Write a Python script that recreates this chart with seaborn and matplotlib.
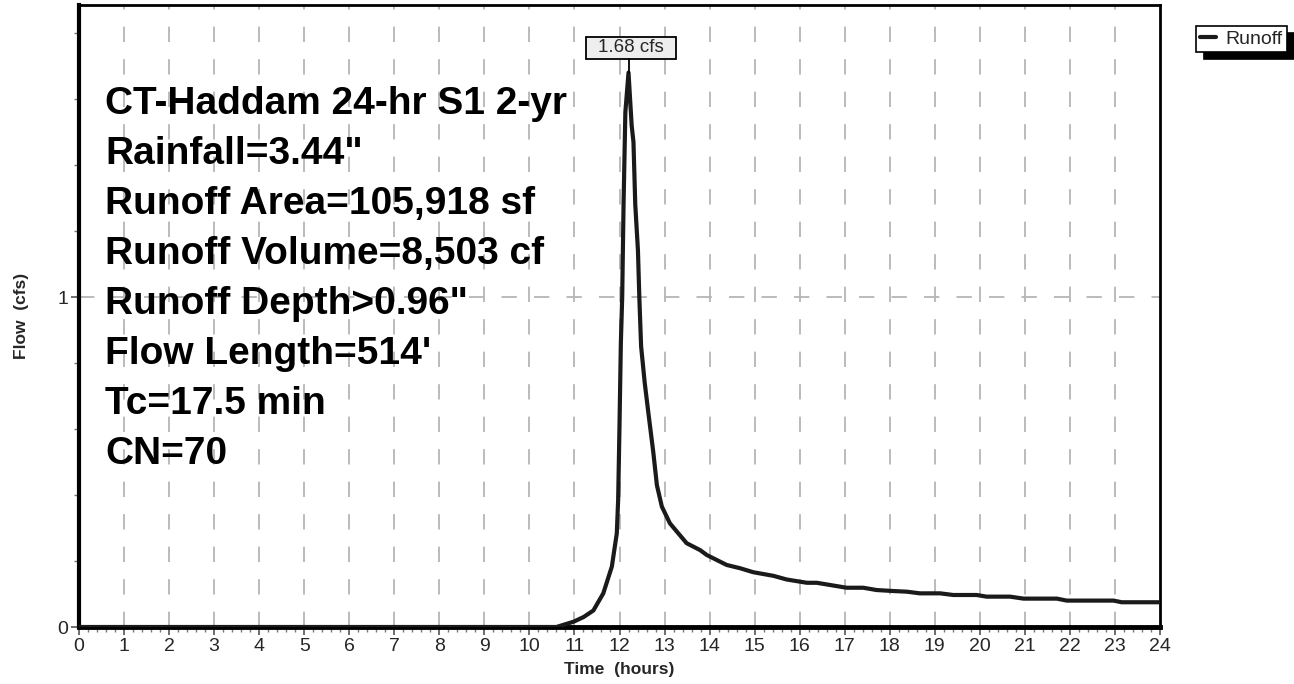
import matplotlib
matplotlib.use("Agg")
import matplotlib.pyplot as plt
from matplotlib.ticker import MultipleLocator
from matplotlib.transforms import Affine2D
from matplotlib.patches import Rectangle
import seaborn as sns
import pandas as pd

# ---- data ----
time_hr = [0, 10.6, 10.98, 11.2, 11.42, 11.64, 11.83, 11.94, 11.97, 12.0, 12.03, 12.06,
           12.09, 12.13, 12.2, 12.27, 12.31, 12.35, 12.41, 12.44, 12.48, 12.56, 12.64,
           12.75, 12.83, 12.94, 13.12, 13.49, 13.79, 13.94, 14.38, 14.68, 14.97, 15.42,
           15.71, 16.16, 16.38, 17.04, 17.41, 17.71, 18.08, 18.38, 18.67, 19.12, 19.41,
           19.93, 20.15, 20.67, 20.97, 21.71, 21.93, 22.97, 23.15, 24]
flow_cfs = [0, 0, 0.016, 0.03, 0.05, 0.102, 0.183, 0.284, 0.385, 0.61, 0.86, 1.0,
            1.28, 1.56, 1.68, 1.52, 1.47, 1.28, 1.14, 1.0, 0.85, 0.74, 0.65,
            0.53, 0.43, 0.365, 0.314, 0.254, 0.233, 0.218, 0.188, 0.178, 0.166, 0.155,
            0.144, 0.134, 0.134, 0.119, 0.119, 0.112, 0.109, 0.107, 0.102, 0.102, 0.097,
            0.097, 0.092, 0.092, 0.086, 0.086, 0.080, 0.080, 0.075, 0.075]
series_name = "Runoff"
peak_label = "1.68 cfs"
peak_time = 12.2
peak_flow = 1.68
info_lines = ["CT-Haddam 24-hr S1 2-yr", "Rainfall=3.44\"", "Runoff Area=105,918 sf",
              "Runoff Volume=8,503 cf", "Runoff Depth>0.96\"", "Flow Length=514'",
              "Tc=17.5 min", "CN=70"]
x_ticks = list(range(0, 25))
y_ticks = [0, 1]

df = pd.DataFrame({"Time": time_hr, "Flow": flow_cfs, "Series": series_name})

sns.set_style("white")
plt.rcParams["font.family"] = ["Liberation Sans", "DejaVu Sans"]

fig = plt.figure(figsize=(12.94, 6.84), dpi=100)
ax = fig.add_axes([79 / 1294, 1 - 627 / 684, (1160 - 79) / 1294, (627 - 5) / 684])

# gridlines
for xt in x_ticks[1:-1]:
    ax.axvline(xt, color="#b5b5b5", lw=1.3, ls=(0, (8.5, 9.5)), zorder=0)
ax.axhline(1, color="#b5b5b5", lw=1.3, ls=(0, (8.5, 9.5)), zorder=0)

sns.lineplot(data=df, x="Time", y="Flow", hue="Series", palette=["#1a1a1a"],
             linewidth=3.0, ax=ax, legend=False, zorder=3)

ax.set_xlim(0, 24)
ax.set_ylim(0, 1.885)
ax.set_xticks(x_ticks)
ax.set_yticks(y_ticks)
ax.xaxis.set_minor_locator(MultipleLocator(0.2))
ax.yaxis.set_minor_locator(MultipleLocator(0.2))
ax.tick_params(axis="both", which="major", direction="out", length=6, width=1.2,
               color="#555555", labelsize=14, pad=2)
ax.tick_params(axis="both", which="minor", direction="out", length=3.5, width=1.0,
               color="#777777")
ax.tick_params(axis="both", which="both", bottom=True, left=True)

for side, lw in [("left", 3.0), ("bottom", 3.5), ("top", 2.0), ("right", 2.0)]:
    ax.spines[side].set_visible(True)
    ax.spines[side].set_color("black")
    ax.spines[side].set_linewidth(lw)

ax.set_xlabel("Time  (hours)", fontsize=12.5, fontweight="bold", labelpad=5)
ax.set_ylabel("Flow  (cfs)", fontsize=12.5, fontweight="bold", labelpad=20)

# info text
for i, line in enumerate(info_lines):
    ax.text(0.0245, 1 - (104 - 5 + 50 * i) / 622, line,
            transform=ax.transAxes, fontsize=28, fontweight="bold",
            va="center", ha="left", color="black", zorder=4)

# peak annotation (box offset in pixels from the peak point)
px, py = ax.transData.transform((peak_time, peak_flow))
off = Affine2D().translate(px, py)
ax.add_patch(Rectangle((-43, 14), 90, 22, transform=off, facecolor="#eeeeee",
                       edgecolor="black", lw=1.3, zorder=5, clip_on=False))
ax.add_line(plt.Line2D([0, 0], [0, 14], transform=off, color="black", lw=1.3,
                       zorder=5, clip_on=False))
ax.text(2, 25, peak_label, transform=off, ha="center", va="center",
        fontsize=13.5, zorder=6)

# legend
handle = plt.Line2D([], [], color="#1a1a1a", lw=3.0)
leg = fig.legend([handle], [series_name], loc="upper left",
                 bbox_to_anchor=(1196 / 1294, 1 - 26 / 684), fontsize=14,
                 frameon=True, fancybox=False, edgecolor="black", framealpha=1,
                 handlelength=0.8, handletextpad=0.5, borderpad=0.22,
                 borderaxespad=0,
                 shadow={"color": "black", "alpha": 1.0, "ox": 6, "oy": -5})
leg.get_frame().set_linewidth(1.2)

fig.savefig("out.png", dpi=100)
